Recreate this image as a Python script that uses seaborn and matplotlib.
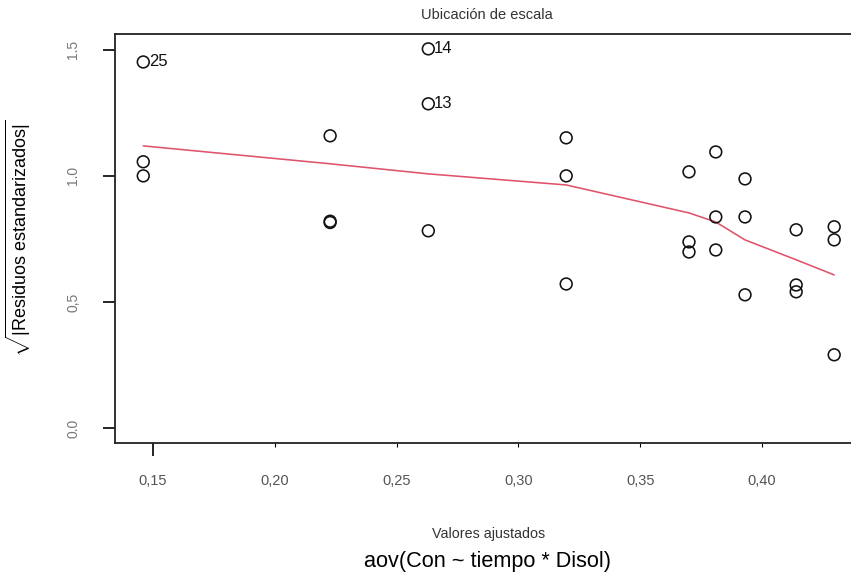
import matplotlib
import matplotlib.pyplot as plt
import seaborn as sns
import pandas as pd
# Use non-interactive backend for saving files
matplotlib.use("Agg")

# ==========================================
# DATA
# ==========================================
fitted = [0.146, 0.146, 0.146,
          0.2227, 0.2227, 0.2227,
          0.263, 0.263, 0.263,
          0.3196, 0.3196, 0.3196,
          0.370, 0.370, 0.370,
          0.381, 0.381, 0.381,
          0.393, 0.393, 0.393,
          0.414, 0.414, 0.414,
          0.4296, 0.4296, 0.4296]
sqrt_resid = [1.452, 1.056, 1.000,
              1.159, 0.820, 0.815,
              1.504, 1.286, 0.782,
              1.151, 1.000, 0.571,
              1.016, 0.738, 0.698,
              1.095, 0.837, 0.706,
              0.988, 0.837, 0.528,
              0.786, 0.567, 0.540,
              0.798, 0.746, 0.290]

smooth_x = [0.146, 0.2227, 0.263, 0.3196, 0.370, 0.381, 0.393, 0.414, 0.4296]
smooth_y = [1.119, 1.048, 1.008, 0.964, 0.853, 0.817, 0.746, 0.667, 0.607]

outlier_ids = ["25", "14", "13"]
outlier_x = [0.146, 0.263, 0.263]
outlier_y = [1.452, 1.504, 1.286]

xtick_vals = [0.15, 0.20, 0.25, 0.30, 0.35, 0.40]
xtick_labels = ["0,15", "0,20", "0,25", "0,30", "0,35", "0,40"]
ytick_vals = [0.0, 0.5, 1.0, 1.5]
ytick_labels = ["0.0", "0,5", "1.0", "1.5"]

df = pd.DataFrame({"fitted": fitted, "sqrt_resid": sqrt_resid})
smooth = pd.DataFrame({"x": smooth_x, "y": smooth_y})

# ==========================================
# PLOT
# ==========================================
sns.set_style("white")
plt.rcParams['font.family'] = ['Liberation Sans', 'DejaVu Sans']
plt.rcParams['mathtext.fontset'] = 'custom'
plt.rcParams['mathtext.rm'] = 'Liberation Sans'
plt.rcParams['mathtext.it'] = 'Liberation Sans'

fig = plt.figure(figsize=(8.51, 5.75), dpi=100)
ax = fig.add_axes([115 / 851, 1 - 443 / 575, 1 - 115 / 851, (443 - 34) / 575])

sns.scatterplot(data=df, x="fitted", y="sqrt_resid", ax=ax, marker="o", s=72,
                facecolor="none", edgecolor="#111111", linewidth=1.15, zorder=3)
sns.lineplot(data=smooth, x="x", y="y", ax=ax, color="#DF536B", linewidth=1.15,
             estimator=None, sort=False, zorder=2)

for lab, xv, yv in zip(outlier_ids, outlier_x, outlier_y):
    ax.text(xv + 0.0024, yv, lab, fontsize=12, va="center", ha="left", color="#111111")

ax.set_xlim(0.1344, 0.4365)
ax.set_ylim(-0.06, 1.563)
ax.set_xlabel("")
ax.set_ylabel("")

ax.set_xticks(xtick_vals)
ax.set_xticklabels(xtick_labels, fontsize=10.5, color="#555555")
ax.set_yticks(ytick_vals)
ax.set_yticklabels(ytick_labels, fontsize=10, color="#777777", rotation=90, va="center")

ax.tick_params(axis="x", direction="out", length=9, width=1.2, pad=13, color="black", bottom=True)
ax.tick_params(axis="y", direction="out", length=9, width=1.2, pad=16, color="black", left=True)
# only the first x tick is a full tick in the reference, the rest are faint stubs
for t in ax.xaxis.get_major_ticks()[1:]:
    t.tick1line.set_markersize(3)
    t.tick1line.set_color("#888888")
    t.tick1line.set_markeredgewidth(0.8)

for side in ["left", "bottom", "top"]:
    ax.spines[side].set_color("#222222")
    ax.spines[side].set_linewidth(1.3)
ax.spines["right"].set_visible(False)

fig.text(487 / 851, 1 - 15 / 575, "Ubicación de escala", fontsize=10.5, color="#333333",
         ha="center", va="center")
fig.text(489 / 851, 1 - 534 / 575, "Valores ajustados", fontsize=10.3, color="#333333",
         ha="center", va="center")
fig.text(488 / 851, 1 - 562 / 575, "aov(Con ~ tiempo * Disol)", fontsize=15.6, color="black",
         ha="center", va="center")
fig.text(18 / 851, 1 - 238 / 575, r"$\sqrt{|\mathrm{Residuos\ estandarizados}|}$",
         fontsize=13, color="black", rotation=90, ha="center", va="center")

plt.savefig("out.png", dpi=100)
plt.close()
